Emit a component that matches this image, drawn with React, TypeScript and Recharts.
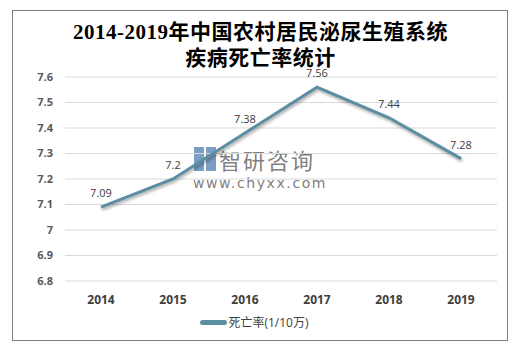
import React from "react";
import { LineChart, Line, XAxis, YAxis, CartesianGrid, LabelList } from "recharts";

const years = ["2014", "2015", "2016", "2017", "2018", "2019"];
const deathRate = [7.09, 7.2, 7.38, 7.56, 7.44, 7.28];
const yTicks = [6.8, 6.9, 7, 7.1, 7.2, 7.3, 7.4, 7.5, 7.6];
const seriesName = "死亡率(1/10万)";
const titleLines = ["2014-2019年中国农村居民泌尿生殖系统", "疾病死亡率统计"];

const data = years.map((y, i) => ({ year: y, rate: deathRate[i] }));

const LINE_COLOR = "#5b8ea3";
const SANS = '"Microsoft YaHei", "Open Sans", "Noto Sans CJK SC", sans-serif';
const SERIF = '"Liberation Serif", "DejaVu Serif", "Noto Sans CJK SC", serif';

export default function App() {
  return (
    <div style={{ position: "absolute", left: 0, top: 0, width: 521, height: 351, background: "#fff" }}>
      {/* frame */}
      <div
        style={{
          position: "absolute",
          left: 12,
          top: 10,
          width: 494,
          height: 329,
          border: "1px solid #7f7f7f",
        }}
      />
      {/* title */}
      <div
        style={{
          position: "absolute",
          left: 0,
          top: 19,
          width: 521,
          textAlign: "center",
          fontFamily: SERIF,
          fontWeight: "bold",
          fontSize: 21,
          lineHeight: "26px",
          letterSpacing: 0.5,
          color: "#000",
        }}
      >
        {titleLines.map((t) => (
          <div key={t}>{t}</div>
        ))}
      </div>
      {/* watermark */}
      <div style={{ position: "absolute", left: 194, top: 147, width: 22, height: 24 }}>
        <div style={{ position: "absolute", left: 0, top: 0, width: 10, height: 24, background: "#4f7fb0", opacity: 0.75 }} />
        <div style={{ position: "absolute", left: 12, top: 0, width: 10, height: 24, background: "#4f7fb0", opacity: 0.75 }} />
      </div>
      <div
        style={{
          position: "absolute",
          left: 219,
          top: 145,
          fontFamily: '"Noto Sans CJK SC", sans-serif',
          fontSize: 22,
          lineHeight: "28px",
          letterSpacing: 2,
          color: "#7f7f7f",
        }}
      >
        智研咨询
      </div>
      <div
        style={{
          position: "absolute",
          left: 193,
          top: 175,
          fontFamily: '"DejaVu Sans", sans-serif',
          fontSize: 14,
          lineHeight: "16px",
          letterSpacing: 1.6,
          color: "#7f7f7f",
        }}
      >
        www.chyxx.com
      </div>
      <div style={{ position: "absolute", left: 0, top: 0 }}>
        <LineChart
          width={521}
          height={351}
          data={data}
          margin={{ top: 77, right: 24, bottom: 40, left: 5 }}
        >
          <CartesianGrid vertical={false} stroke="#d9d9d9" />
          <XAxis
            dataKey="year"
            axisLine={false}
            tickLine={false}
            padding={{ left: 36, right: 36 }}
            tick={{ fontSize: 12, fontWeight: "bold", fill: "#404040", fontFamily: SANS }}
            dy={6}
            height={30}
          />
          <YAxis
            domain={[6.8, 7.6]}
            ticks={yTicks}
            axisLine={false}
            tickLine={false}
            width={60}
            interval={0}
            tick={{ fontSize: 11, fontWeight: "bold", fill: "#595959", fontFamily: SANS }}
            dx={-4}
          />
          <Line
            dataKey="rate"
            name={seriesName}
            stroke={LINE_COLOR}
            strokeWidth={3}
            dot={false}
            activeDot={false}
            isAnimationActive={false}
            style={{ filter: "drop-shadow(1px 2px 1.5px rgba(0,0,0,0.35))" }}
          >
            <LabelList
              dataKey="rate"
              position="top"
              offset={10}
              style={{ fontSize: 11, fill: "#404040", fontFamily: SANS }}
            />
          </Line>
        </LineChart>
      </div>
      {/* legend */}
      <div
        style={{
          position: "absolute",
          left: 0,
          top: 313,
          width: 521,
          display: "flex",
          justifyContent: "center",
          alignItems: "center",
          fontFamily: SANS,
          fontSize: 12,
          color: "#404040",
        }}
      >
        <div style={{ width: 27, height: 5, borderRadius: 2.5, background: LINE_COLOR, marginRight: 1, marginLeft: -12 }} />
        <span>{seriesName}</span>
      </div>
    </div>
  );
}
